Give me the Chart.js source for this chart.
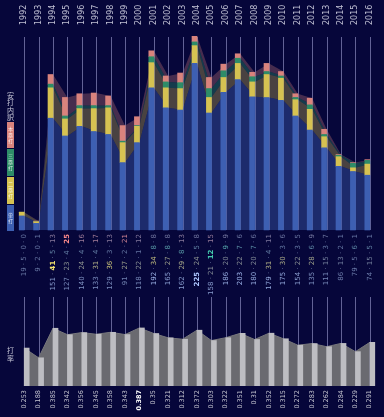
<!DOCTYPE html>
<html>
<head>
<meta charset="utf-8">
<script src="https://cdn.jsdelivr.net/npm/chart.js@4/dist/chart.umd.min.js"></script>
<style>
  html, body { margin: 0; padding: 0; background: #06063a; }
  #wrap { width: 384px; height: 417px; position: relative; }
</style>
</head>
<body>
<div id="wrap"><canvas id="myChart"></canvas></div>
<script>
// datos
const years = ['1992','1993','1994','1995','1996','1997','1998','1999','2000','2001','2002','2003','2004',
               '2005','2006','2007','2008','2009','2010','2011','2012','2013','2014','2015','2016'];
const singles = [19, 9, 151, 127, 140, 133, 129, 91, 118, 192, 165, 162, 225, 158, 186, 203, 180, 179, 175, 154, 135, 111, 86, 79, 74];
const doubles = [5, 2, 41, 23, 24, 31, 36, 27, 22, 34, 27, 29, 24, 21, 20, 22, 20, 31, 30, 22, 28, 15, 13, 5, 15];
const triples = [0, 0, 5, 4, 4, 4, 3, 2, 1, 8, 8, 8, 5, 12, 9, 7, 7, 4, 3, 3, 6, 3, 2, 6, 5];
const homers = [0, 1, 13, 25, 16, 17, 13, 21, 12, 8, 8, 13, 8, 15, 9, 6, 6, 11, 6, 5, 9, 7, 1, 1, 1];
const avg = [0.253, 0.188, 0.385, 0.342, 0.356, 0.345, 0.358, 0.343, 0.387, 0.35, 0.321, 0.312, 0.372,
             0.303, 0.322, 0.351, 0.31, 0.352, 0.315, 0.272, 0.283, 0.262, 0.284, 0.229, 0.291];
const hitNames = ['単打', '二塁打', '三塁打', '本塁打'];

const cols = ['#3d5fb2', '#d6c252', '#2e8c68', '#d9837d'];
const areas = ['rgba(61,95,178,0.42)', 'rgba(214,194,82,0.32)', 'rgba(46,140,104,0.4)', 'rgba(217,131,125,0.3)'];
const bright = [[175, 200, 255], [240, 225, 110], [70, 205, 175], [255, 140, 140]];
const series = [singles, doubles, triples, homers];

const CJK = '"Noto Sans CJK JP", sans-serif';

function mix(t, c) {
  const base = [100, 115, 160];
  return 'rgb(' + base.map((b, k) => Math.round(b + (c[k] - b) * t)).join(',') + ')';
}

const deco = {
  id: 'deco',
  beforeDatasetsDraw(chart) {
    const ctx = chart.ctx, x = chart.scales.x, y = chart.scales.y, y2 = chart.scales.y2;
    ctx.save();
    ctx.strokeStyle = 'rgba(160,160,210,0.6)';
    ctx.lineWidth = 1;
    years.forEach((yr, i) => {
      const px = Math.round(x.getPixelForValue(i)) + 0.5;
      ctx.beginPath();
      ctx.moveTo(px, chart.chartArea.top + 1);
      ctx.lineTo(px, y.getPixelForValue(0));
      ctx.moveTo(px, 297);
      ctx.lineTo(px, y2.getPixelForValue(0));
      ctx.stroke();
    });
    ctx.restore();
  },
  afterDatasetsDraw(chart) {
    const ctx = chart.ctx, x = chart.scales.x, y = chart.scales.y, y2 = chart.scales.y2;
    ctx.save();
    ctx.textBaseline = 'middle';
    // años
    years.forEach((yr, i) => {
      ctx.save();
      ctx.translate(x.getPixelForValue(i), 25);
      ctx.rotate(-Math.PI / 2);
      ctx.textAlign = 'left';
      ctx.font = '8px "DejaVu Sans"';
      ctx.fillStyle = '#c0c0d4';
      ctx.fillText(yr, 0, 0);
      ctx.restore();
    });
    const maxes = series.map(s => Math.max(...s));
    // desglose de hits
    years.forEach((yr, i) => {
      const px = x.getPixelForValue(i);
      const parts = [];
      series.forEach((s, k) => {
        if (k > 0) parts.push({ t: ' · ', c: 'rgb(95,108,150)', b: false });
        const r = s[i] / maxes[k];
        parts.push({ t: String(s[i]), c: mix(Math.pow(r, 2.2), bright[k]), b: s[i] === maxes[k] });
      });
      let total = 0;
      parts.forEach(p => { ctx.font = (p.b ? 'bold ' : '') + '7px "DejaVu Sans"'; p.w = ctx.measureText(p.t).width; total += p.w; });
      ctx.save();
      ctx.translate(px, y.getPixelForValue(0) + 4);
      ctx.rotate(-Math.PI / 2);
      ctx.textAlign = 'left';
      let cx = -total;
      parts.forEach(p => {
        ctx.font = (p.b ? 'bold ' : '') + '7px "DejaVu Sans"';
        ctx.fillStyle = p.c;
        ctx.fillText(p.t, cx, 0);
        cx += p.w;
      });
      ctx.restore();
    });
    // promedio
    const amax = Math.max(...avg);
    years.forEach((yr, i) => {
      const px = x.getPixelForValue(i);
      ctx.save();
      ctx.translate(px, y2.getPixelForValue(0) + 4);
      ctx.rotate(-Math.PI / 2);
      ctx.textAlign = 'right';
      ctx.font = (avg[i] === amax ? 'bold ' : '') + '6.5px "DejaVu Sans"';
      ctx.fillStyle = avg[i] === amax ? '#ffffff' : '#c4c4d0';
      ctx.fillText(String(avg[i]), 0, 0);
      ctx.restore();
    });
    // leyenda
    ctx.textAlign = 'center';
    ctx.fillStyle = '#c8c8d8';
    ctx.font = '7px ' + CJK;
    '安打内訳'.split('').forEach((ch, j) => ctx.fillText(ch, 10.5, 95 + j * 7.5));
    const blocks = [[205, 231], [177, 204], [149, 176], [122, 148]];
    blocks.forEach((b, k) => {
      ctx.fillStyle = cols[k];
      ctx.fillRect(7, b[0], 7, b[1] - b[0]);
      const chars = hitNames[k].split('');
      const mid = (b[0] + b[1]) / 2;
      ctx.fillStyle = 'rgba(255,255,255,0.8)';
      ctx.font = '5px ' + CJK;
      chars.forEach((ch, j) => ctx.fillText(ch, 10.5, mid + (j - (chars.length - 1) / 2) * 6));
    });
    ctx.fillStyle = '#c8c8d8';
    ctx.font = '7px ' + CJK;
    '打率'.split('').forEach((ch, j) => ctx.fillText(ch, 10.5, 350 + j * 8));
    ctx.restore();
  }
};

const datasets = [];
series.forEach((s, k) => {
  datasets.push({ type: 'bar', data: s, backgroundColor: cols[k], stack: 'bars', yAxisID: 'y', barThickness: 5, order: 0 });
});
series.forEach((s, k) => {
  datasets.push({ type: 'line', data: s, backgroundColor: areas[k], borderWidth: 0, pointRadius: 0, tension: 0,
                  fill: k === 0 ? 'origin' : '-1', stack: 'lines', yAxisID: 'y', order: 1 });
});
datasets.push({ type: 'bar', data: avg, backgroundColor: '#bdbdc2', yAxisID: 'y2', barThickness: 5, order: 0 });
datasets.push({ type: 'line', data: avg, backgroundColor: '#6a6a70', borderColor: '#77777c', borderWidth: 1,
                pointRadius: 0, tension: 0, fill: 'origin', yAxisID: 'y2', order: 1 });

new Chart("myChart", {
  type: 'bar',
  data: { labels: years, datasets: datasets },
  options: {
    responsive: true,
    maintainAspectRatio: false,
    animation: false,
    layout: { padding: { top: 36, left: 17, right: 7, bottom: 31 } },
    plugins: { legend: { display: false }, tooltip: { enabled: false } },
    scales: {
      x: { display: false },
      y: { display: false, stacked: true, min: -210.7, max: 262 },
      y2: { display: false, min: 0, max: 2.333 }
    }
  },
  plugins: [deco]
});
</script>
</body>
</html>
